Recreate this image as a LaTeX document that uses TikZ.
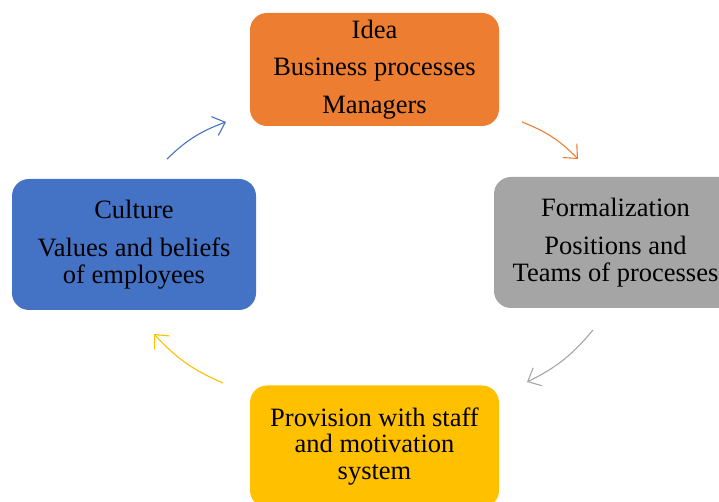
\documentclass[tikz,border=0pt]{standalone}
\usepackage{fontspec}
\setmainfont{Liberation Serif}
\usepackage{tikz}
\usetikzlibrary{arrows.meta}
\usepackage{xcolor}
\definecolor{idea}{HTML}{ED7D31}
\definecolor{formal}{HTML}{A5A5A5}
\definecolor{staff}{HTML}{FFC000}
\definecolor{culture}{HTML}{4472C4}
\tikzset{
  every node/.style={text=black},
  box/.style={rounded corners=17pt,align=center,inner sep=0pt,
    minimum width=249pt,minimum height=113pt,
    font=\fontsize{26.5}{26.8}\selectfont},
  ideabox/.style={box,fill=idea},
  formalbox/.style={box,fill=formal,minimum width=243pt,minimum height=131pt},
  staffbox/.style={box,fill=staff,minimum height=122pt},
  culturebox/.style={box,fill=culture,minimum width=244pt,minimum height=131pt},
  cycle/.style={-{Straight Barb[length=11pt,width=20pt]},line width=1.1pt},
}

\begin{document}
\begin{tikzpicture}[x=1pt,y=1pt]
  \clip (0,0) rectangle (719,502);
  \node[ideabox] (idea) at (374.5,432.5) {Idea\\[11pt]Business processes\\[11pt]Managers};
  \node[formalbox] (formal) at (615.5,259.5) {Formalization\\[11pt]Positions and\\Teams of processes};
  \node[staffbox] (staff) at (374.5,55.5) {Provision with staff\\and motivation\\system};
  \node[culturebox] (culture) at (134,257.5) {Culture\\[11pt]Values and beliefs\\of employees};

  % arrow ends around the cycle
  \coordinate (c2i) at (167,343);  \coordinate (i2c) at (226,380);
  \coordinate (i2f) at (522,380);  \coordinate (f2i) at (578,343);
  \coordinate (f2s) at (593,172);  \coordinate (s2f) at (527,120);
  \coordinate (s2c) at (223,119);  \coordinate (c2s) at (154,168);
  \draw[cycle,draw=culture] (c2i) to[bend left=12] (i2c);
  \draw[cycle,draw=idea] (i2f) to[bend left=12] (f2i);
  \draw[cycle,draw=formal] (f2s) to[bend left=12] (s2f);
  \draw[cycle,draw=staff] (s2c) to[bend left=12] (c2s);
\end{tikzpicture}
\end{document}
